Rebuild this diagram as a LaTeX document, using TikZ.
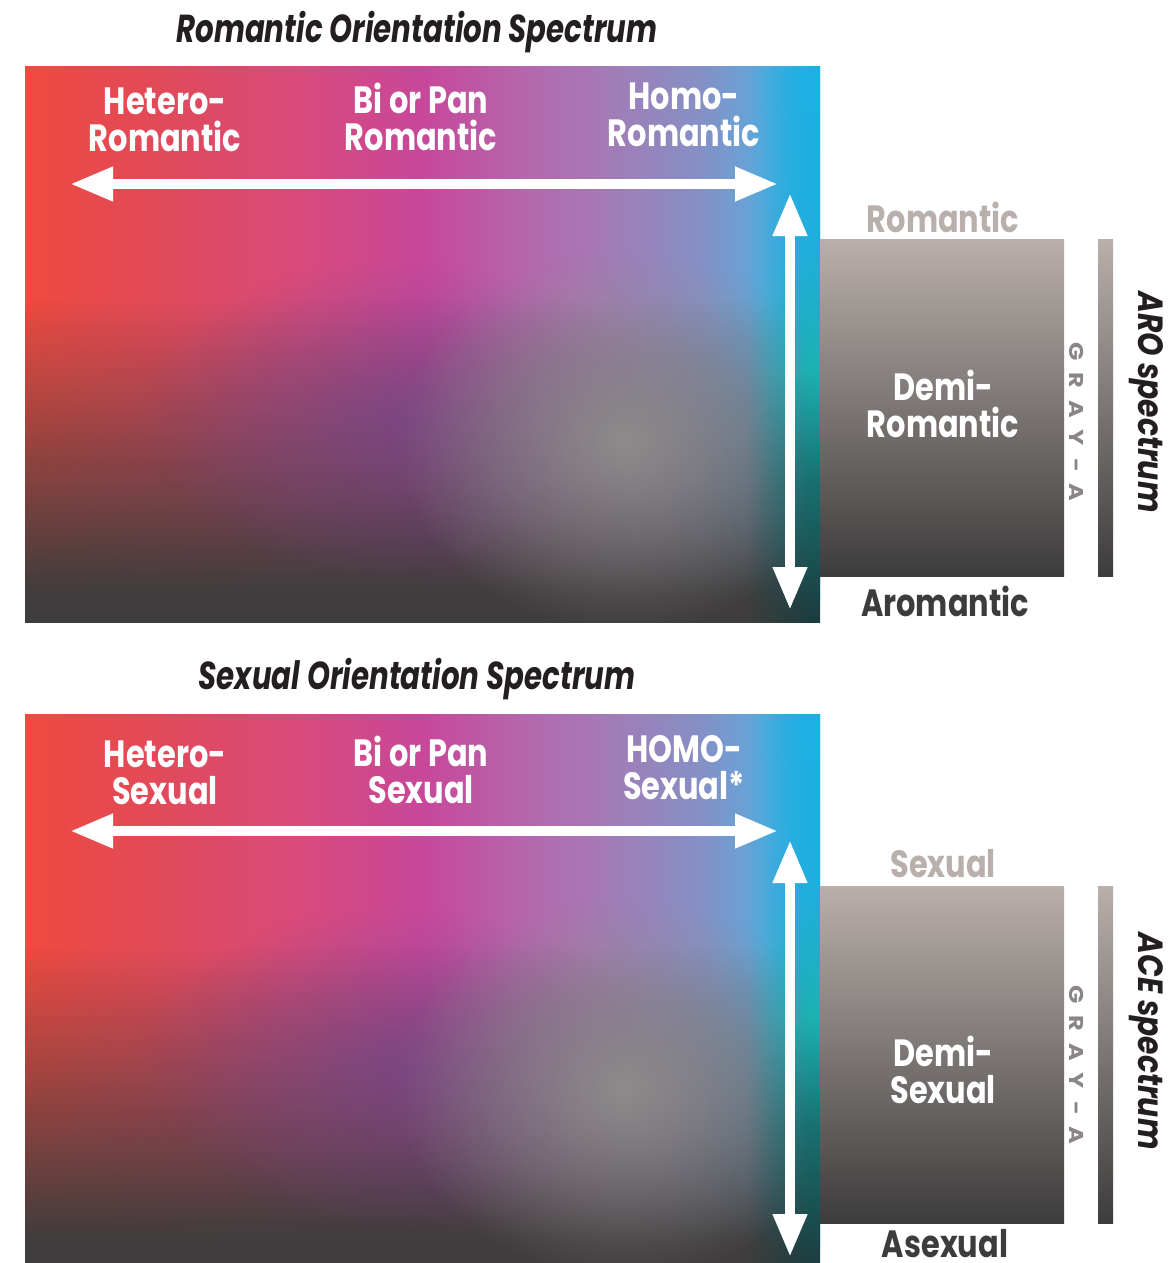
\documentclass[tikz,border=0pt]{standalone}
\usepackage{fontspec}
\usepackage{tikz}
\usetikzlibrary{arrows.meta,fadings}

\newfontfamily\lblfont{Poppins}[FakeStretch=0.8]
\newfontfamily\ttlfont{Poppins}[FakeStretch=0.75]
\newfontfamily\sidefont{Poppins}[FakeStretch=0.85]
\newfontfamily\grayfont{Poppins}[FakeStretch=1.2, LetterSpace=60]

\definecolor{sp0}{HTML}{EE4A3F}
\definecolor{sp1}{HTML}{E24A58}
\definecolor{sp2}{HTML}{D74A7C}
\definecolor{sp3}{HTML}{C8479A}
\definecolor{sp4}{HTML}{B665AB}
\definecolor{sp5}{HTML}{A679B4}
\definecolor{sp6}{HTML}{8590C6}
\definecolor{sp7}{HTML}{5EA8DA}
\definecolor{sp8}{HTML}{1CB0E4}
\definecolor{tl0}{HTML}{1B3B3D}
\definecolor{tl1}{HTML}{177070}
\definecolor{tl2}{HTML}{1CB2B2}
\definecolor{tl3}{HTML}{1FAEDC}
\definecolor{tl4}{HTML}{1DB0E4}
\definecolor{darkbase}{HTML}{3F3D3D}
\definecolor{blobgray}{HTML}{8D8B8A}
\definecolor{blobpurple}{HTML}{6A4A8E}
\definecolor{boxtop}{HTML}{B9AFAB}
\definecolor{boxbot}{HTML}{3D3C3C}
\definecolor{inkblack}{HTML}{231F20}
\definecolor{graytext}{HTML}{8A8685}

\pgfdeclarehorizontalshading{orient}{100bp}{color(0bp)=(sp0); color(25bp)=(sp0); color(33bp)=(sp1); color(42.5bp)=(sp2); color(50bp)=(sp3); color(56bp)=(sp4); color(61bp)=(sp5); color(67.5bp)=(sp6); color(71.5bp)=(sp7); color(75bp)=(sp8); color(100bp)=(sp8)}
\pgfdeclareverticalshading{tealside}{100bp}{color(0bp)=(tl0); color(25bp)=(tl0); color(37.8bp)=(tl1); color(47.7bp)=(tl2); color(58.5bp)=(tl3); color(75bp)=(tl4); color(100bp)=(tl4)}

\tikzfading[name=darkfade, top color=transparent!100, bottom color=transparent!0]
\tikzfading[name=tealfade, left color=transparent!100, right color=transparent!0]
\tikzfading[name=softspot, inner color=transparent!0, outer color=transparent!100]

\tikzset{
	spec arrow/.style={white, line width=10pt, {Triangle[length=43pt,width=32pt]}-{Triangle[length=43pt,width=32pt]}},
	spec label/.style={white, align=center, font=\lblfont\bfseries\fontsize{38}{37}\selectfont},
	end label/.style={align=center, inner sep=0pt, font=\lblfont\bfseries\fontsize{38}{37}\selectfont},
	spec title/.style={inkblack, font=\ttlfont\bfseries\itshape\fontsize{39}{39}\selectfont},
	side title/.style={inkblack, rotate=-90, font=\sidefont\bfseries\itshape\fontsize{35}{35}\selectfont},
	gray label/.style={graytext, rotate=-90, font=\grayfont\bfseries\fontsize{20}{20}\selectfont}
}

\begin{document}
\begin{tikzpicture}[x=1pt,y=1pt]
		\useasboundingbox[fill=white] (0,0) rectangle (1167,-1263);
		\foreach \dy/\p in {0/r,647/s} {
			\begin{scope}[yshift=-\dy]
				\begin{scope}
					\clip (25,-67) rectangle (820,-622);
					\shade[shading=orient] (25,-67) rectangle (820,-600);
					\fill[darkbase, path fading=darkfade] (25,-300) rectangle (820,-595);
					\fill[darkbase] (25,-594) rectangle (820,-630);
					\fill[blobpurple, fill opacity=0.55, path fading=softspot] (400,-420) ellipse [x radius=260, y radius=160];
					\fill[blobgray, path fading=softspot] (625,-440) ellipse [x radius=230, y radius=190];
					\shade[shading=tealside, path fading=tealfade] (748,-67) rectangle (812,-622);
					\shade[shading=tealside] (811,-67) rectangle (822,-622);
				\end{scope}
				\shade[top color=boxtop, bottom color=boxbot] (820,-239) rectangle (1064,-576);
				\shade[top color=boxtop, bottom color=boxbot] (1098,-239) rectangle (1113,-576);
				\coordinate (hl\p) at (70,-184);
				\coordinate (hr\p) at (778,-184);
				\coordinate (vt\p) at (790,-193);
				\coordinate (vb\p) at (790,-610);
				\draw[spec arrow] (hl\p) -- (hr\p);
				\draw[spec arrow] (vt\p) -- (vb\p);
			\end{scope}
		}
		\node[spec title] (titleR) at (417,-32) {Romantic Orientation Spectrum};
		\node[spec title] (titleS) at (417,-679) {Sexual Orientation Spectrum};
		\node[spec label] (hetR) at (165,-120) {Hetero-\\Romantic};
		\node[spec label] (biR) at (421,-117) {Bi or Pan\\Romantic};
		\node[spec label] (homR) at (684,-115) {Homo-\\Romantic};
		\node[spec label] (hetS) at (165,-773) {Hetero-\\Sexual};
		\node[spec label] (biS) at (421,-770) {Bi or Pan\\Sexual};
		\node[spec label] (homS) at (684,-768) {HOMO-\\Sexual*};
		\node[spec label] (demiR) at (943,-404) {Demi-\\Romantic};
		\node[spec label] (demiS) at (943,-1070) {Demi-\\Sexual};
		\node[end label, boxtop] (romTop) at (943,-217) {Romantic};
		\node[end label, boxbot] (aroBot) at (945,-601) {Aromantic};
		\node[end label, boxtop] (sexTop) at (943,-864) {Sexual};
		\node[end label, boxbot] (aseBot) at (945,-1244) {Asexual};
		\node[gray label] (grayR) at (1077,-422) {GRAY-A};
		\node[gray label] (grayS) at (1077,-1065) {GRAY-A};
		\node[side title] (aroSpec) at (1146,-402) {ARO spectrum};
		\node[side title] (aceSpec) at (1146,-1041) {ACE spectrum};
\end{tikzpicture}
\end{document}
